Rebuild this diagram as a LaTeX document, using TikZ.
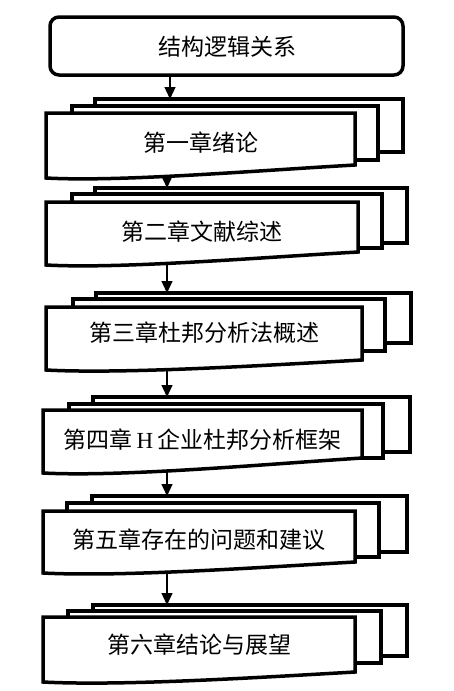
\documentclass[tikz,border=0pt]{standalone}
\usepackage{fontspec}
\setmainfont{Liberation Serif}
\newfontfamily\cjk{Noto Sans CJK SC}
\usetikzlibrary{arrows.meta}

\tikzset{
  page/.style={draw, line width=3.5pt, fill=white},
  title/.style={font=\cjk\fontsize{23}{27}\selectfont},
  flow/.style={-{Triangle[length=12pt,width=11pt]}, line width=1.3pt},
}

\begin{document}
\begin{tikzpicture}[x=1pt,y=-1pt]
  \useasboundingbox (0,0) rectangle (453,691);
  % top box
  \draw [page, rounded corners=9pt] (50,17) rectangle (403,75);
  \node [title] (sys) at (227,47) {结构逻辑关系};
  \coordinate (s0) at (170,75);
  % chapter 1
  \draw [page] (95,99) rectangle (403,152);
  \draw [page] (72,106) rectangle (378,160);
  \draw [page] (46,113) -- (355,113) -- (355,165) .. controls (250,171) and (120,182) .. (46,178) -- cycle;
  \node [title] (c1) at (200.5,143) {第一章绪论};
  \coordinate (t1) at (170,99);
  \coordinate (s1) at (167,176);
  % chapter 2
  \draw [page] (95,188) rectangle (407,243);
  \draw [page] (72,194) rectangle (382,248);
  \draw [page] (46,202) -- (358,202) -- (358,252) .. controls (252,258) and (120,269) .. (46,265) -- cycle;
  \node [title] (c2) at (202,232) {第二章文献综述};
  \coordinate (t2) at (167,188);
  \coordinate (s2) at (167,263);
  % chapter 3
  \draw [page] (96,293) rectangle (411,343);
  \draw [page] (73,299) rectangle (385,351);
  \draw [page] (46,307) -- (362,307) -- (362,360) .. controls (255,366) and (120,374) .. (46,370) -- cycle;
  \node [title] (c3) at (204,333) {第三章杜邦分析法概述};
  \coordinate (t3) at (167,293);
  \coordinate (s3) at (167,368);
  % chapter 4
  \draw [page] (93,397) rectangle (410,452);
  \draw [page] (69,404) rectangle (383,458);
  \draw [page] (43,410) -- (362,410) -- (362,458) .. controls (255,465) and (120,477) .. (43,473) -- cycle;
  \node [title] (c4) at (202.5,440) {第四章\,{\rmfamily H}\,企业杜邦分析框架};
  \coordinate (t4) at (167,397);
  \coordinate (s4) at (167,471);
  % chapter 5
  \draw [page] (92,496) rectangle (407,552);
  \draw [page] (67,503) rectangle (379,557);
  \draw [page] (43,511) -- (355,511) -- (355,562) .. controls (250,568) and (120,577) .. (43,573) -- cycle;
  \node [title] (c5) at (199,540) {第五章存在的问题和建议};
  \coordinate (t5) at (167,496);
  \coordinate (s5) at (167,571);
  % chapter 6
  \draw [page] (93,605) rectangle (407,656);
  \draw [page] (68,611) rectangle (381,663);
  \draw [page] (43,617) -- (355,617) -- (355,672) .. controls (250,678) and (120,686) .. (43,682) -- cycle;
  \node [title] (c6) at (199,645) {第六章结论与展望};
  \coordinate (t6) at (167,605);
  % arrows
  \draw [flow] (s0) -- (t1);
  \draw [flow] (s1) -- (t2);
  \draw [flow] (s2) -- (t3);
  \draw [flow] (s3) -- (t4);
  \draw [flow] (s4) -- (t5);
  \draw [flow] (s5) -- (t6);
\end{tikzpicture}
\end{document}
